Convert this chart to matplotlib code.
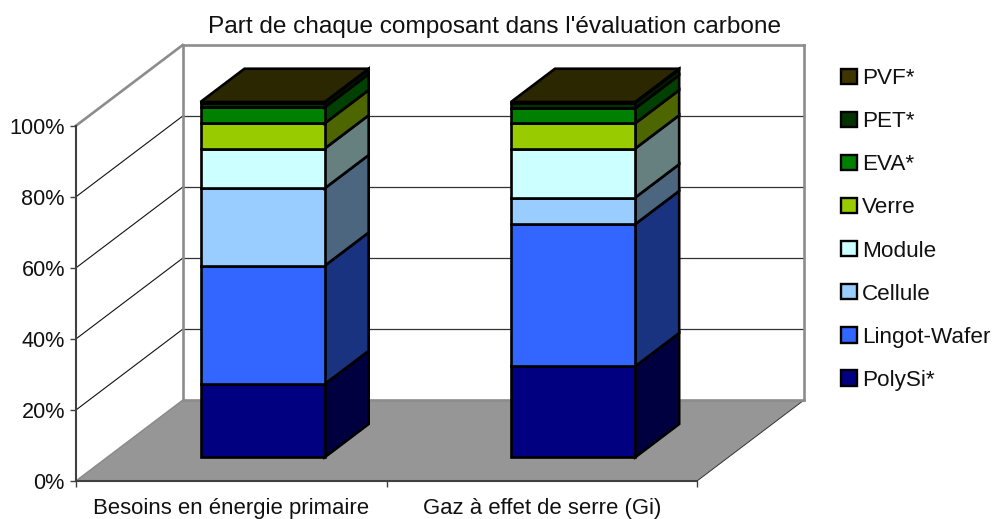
import matplotlib
matplotlib.use("Agg")
import matplotlib.pyplot as plt
from matplotlib.patches import Polygon, Patch

plt.rcParams['font.family'] = ['Liberation Sans', 'DejaVu Sans']

title = "Part de chaque composant dans l'évaluation carbone"
categories = ["Besoins en énergie primaire", "Gaz à effet de serre (Gi)"]
components = ["PolySi*", "Lingot-Wafer", "Cellule", "Module", "Verre", "EVA*", "PET*", "PVF*"]
energy_values = [20.6, 33.3, 21.8, 11.2, 7.1, 4.5, 1.3, 0.2]
ghg_values = [25.6, 40.0, 7.5, 13.8, 7.1, 4.2, 1.6, 0.2]
y_ticks = [0, 20, 40, 60, 80, 100]
y_tick_labels = ["0%", "20%", "40%", "60%", "80%", "100%"]

front_colors = ["#000080", "#3366FF", "#99CCFF", "#CCFFFF", "#99CC00", "#008000", "#003300", "#3F3500"]
side_colors = ["#000040", "#1A3380", "#4D6680", "#668080", "#4D6600", "#004000", "#002000", "#201A00"]
top_color = "#2B2700"

W, H = 992, 519
fig = plt.figure(figsize=(W / 100, H / 100), dpi=100, facecolor="white")
L, R, B, T = 76, 697, 481, 125.7
ax = fig.add_axes([L / W, 1 - B / H, (R - L) / W, (B - T) / H])
ax.set_xlim(0, 2)
ax.set_ylim(0, 100)
ax.patch.set_visible(False)

# oblique projection: depth 0 = front of the floor, depth 1 = back wall
DEPTH_X = 106.7 / ((R - L) / 2)
DEPTH_Y = 80.7 / ((B - T) / 100)


def proj(x, v, d):
    return (x + d * DEPTH_X, v + d * DEPTH_Y)


def poly(points, **kw):
    ax.add_patch(Polygon([proj(*p) for p in points], closed=True, clip_on=False, **kw))


def line(p, q, **kw):
    a, b = proj(*p), proj(*q)
    ax.plot([a[0], b[0]], [a[1], b[1]], clip_on=False, solid_capstyle="projecting", **kw)


# floor
poly([(0, 0, 0), (2, 0, 0), (2, 0, 1), (0, 0, 1)], facecolor="#969696", edgecolor="none", zorder=1)
line((2, 0, 0), (2, 0, 1), color="#333333", lw=0.7, zorder=1.2)
line((0, 0, 0), (0, 0, 1), color="#8C8C8C", lw=1.2, zorder=1.2)

# gridlines
for v in y_ticks[1:-1]:
    line((0, v, 0), (0, v, 1), color="#111111", lw=0.8, zorder=1.1)
    line((0, v, 1), (2, v, 1), color="#333333", lw=0.9, zorder=1.1)

# wall frame
for p, q in [((0, 100, 0), (0, 100, 1)), ((0, 100, 1), (2, 100, 1)),
             ((0, 0, 1), (0, 100, 1)), ((2, 0, 1), (2, 100, 1)), ((0, 0, 1), (2, 0, 1))]:
    line(p, q, color="#8C8C8C", lw=1.9, zorder=1.3)

# stacked bars
BAR_W, D0, D1 = 0.4, 0.294, 0.706
edge = dict(edgecolor="black", linewidth=1.9, joinstyle="miter")
for i, values in enumerate([energy_values, ghg_values]):
    x0, x1 = i + 0.5 - BAR_W / 2, i + 0.5 + BAR_W / 2
    base = 0.0
    for j, val in enumerate(values):
        top = base + val
        z = 3 + j * 0.01
        poly([(x1, base, D0), (x1, base, D1), (x1, top, D1), (x1, top, D0)],
             facecolor=side_colors[j], zorder=z, **edge)
        poly([(x0, base, D0), (x1, base, D0), (x1, top, D0), (x0, top, D0)],
             facecolor=front_colors[j], zorder=z, **edge)
        base = top
    poly([(x0, base, D0), (x1, base, D0), (x1, base, D1), (x0, base, D1)],
         facecolor=top_color, zorder=3.5, **edge)

# axes
for s in ["top", "right"]:
    ax.spines[s].set_visible(False)
for s in ["left", "bottom"]:
    ax.spines[s].set_color("#404040")
    ax.spines[s].set_linewidth(1.5)
    ax.spines[s].set_zorder(2.5)
ax.set_yticks(y_ticks, y_tick_labels)
ax.tick_params(axis="y", length=4.5, width=1.0, color="#404040", pad=3.5, labelsize=15.6, labelcolor="#111111")
ax.set_xticks([0, 1, 2], ["", "", ""])
ax.tick_params(axis="x", which="major", length=4.5, width=1.0, color="#404040")
ax.set_xticks([0.5, 1.5], categories, minor=True)
ax.tick_params(axis="x", which="minor", length=0, pad=12, labelsize=15.9, labelcolor="#111111")

fig.text(495 / W, 1 - 27.5 / H, title, ha="center", va="center", fontsize=17.6, color="#111111")

handles = [Patch(facecolor=c, edgecolor="black", linewidth=1.7, label=n)
           for c, n in zip(front_colors, components)][::-1]
fig.legend(handles=handles, loc="center left", bbox_to_anchor=(841 / W, 1 - 229.5 / H),
           frameon=False, fontsize=16.2, labelcolor="#111111",
           handlelength=0.69, handleheight=0.69, handletextpad=0.25,
           labelspacing=0.98, borderpad=0, borderaxespad=0)

fig.savefig("out.png", dpi=100, facecolor="white")
